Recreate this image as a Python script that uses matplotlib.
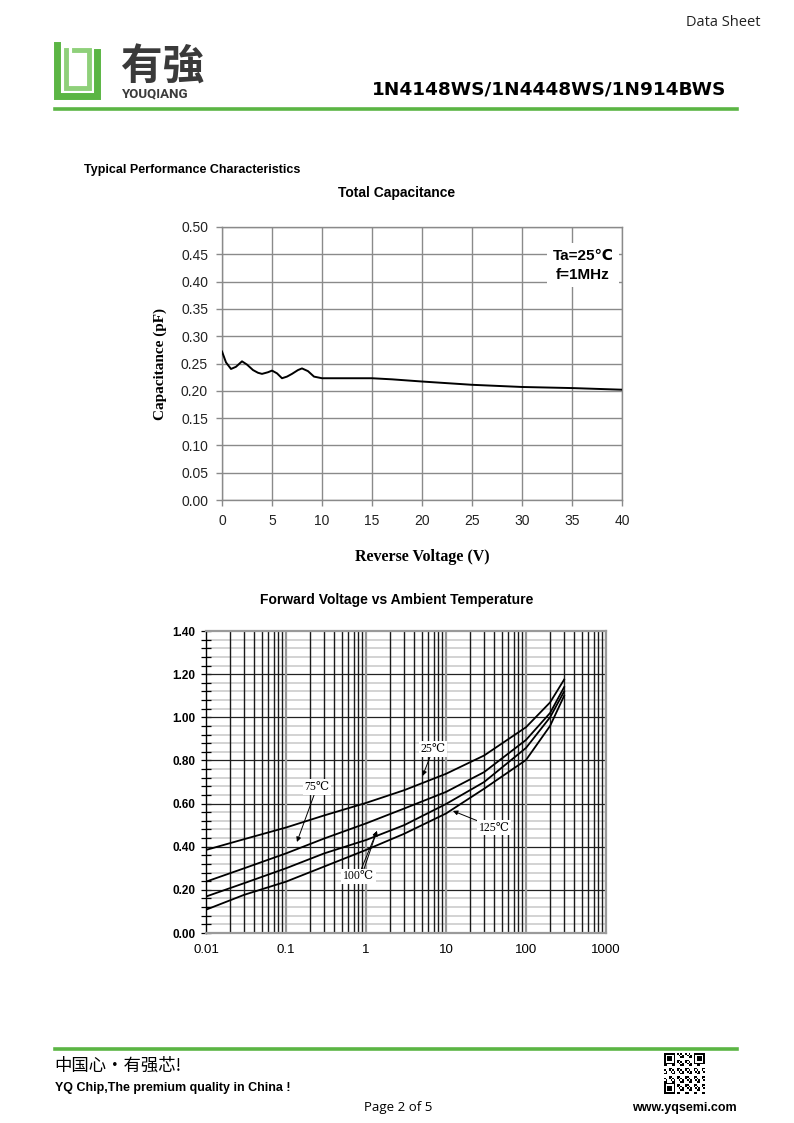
import numpy as np
import matplotlib
matplotlib.use("Agg")
import matplotlib.pyplot as plt
from matplotlib.ticker import FixedLocator, NullFormatter

# ---- data: total capacitance ----
rev_voltage = [0, 0.4, 0.9, 1.4, 2.0, 2.5, 3.1, 3.6, 4.0, 4.6, 5.0, 5.5, 6.0, 6.5,
               7.0, 7.6, 8.0, 8.6, 9.2, 10, 15, 17, 20, 25, 30, 35, 40]
capacitance = [0.272, 0.252, 0.240, 0.244, 0.254, 0.248, 0.238, 0.233, 0.231, 0.234,
               0.237, 0.232, 0.223, 0.226, 0.231, 0.238, 0.241, 0.236, 0.226, 0.223,
               0.223, 0.221, 0.217, 0.211, 0.207, 0.205, 0.202]

# ---- data: forward voltage vs current ----
fwd_current = [0.01, 0.03, 0.1, 0.3, 1, 3, 10, 30, 100, 200, 300]
vf_25 = [0.385, 0.435, 0.489, 0.545, 0.603, 0.662, 0.738, 0.823, 0.954, 1.069, 1.175]
vf_75 = [0.238, 0.300, 0.369, 0.438, 0.508, 0.577, 0.654, 0.746, 0.895, 1.020, 1.140]
vf_100 = [0.169, 0.231, 0.300, 0.369, 0.431, 0.500, 0.598, 0.700, 0.858, 1.000, 1.120]
vf_125 = [0.108, 0.177, 0.238, 0.308, 0.385, 0.460, 0.554, 0.669, 0.802, 0.960, 1.100]

W, H = 794, 1123
GREEN = "#5bb544"
SANS = ["Liberation Sans", "DejaVu Sans"]
SERIF = ["Liberation Serif", "DejaVu Serif"]
CJK = ["Noto Sans CJK SC", "DejaVu Sans"]

fig = plt.figure(figsize=(W / 100, H / 100), dpi=100)


def px(x, y):
    return x / W, 1 - y / H


def ftext(x, y, s, **kw):
    fig.text(*px(x, y), s, **kw)


# ---- header ----
ftext(760, 22, "Data Sheet", ha="right", va="center", fontsize=10.5,
      family=["Open Sans", "DejaVu Sans"], color="#222222")
ftext(726, 90, "1N4148WS/1N4448WS/1N914BWS", ha="right", va="center",
      fontsize=13.3, fontweight="bold", family=["DejaVu Sans"])
fig.add_artist(plt.Line2D([55 / W, 737 / W], [1 - 109 / H] * 2, color=GREEN, lw=2.6))

# logo
fig.add_artist(plt.Line2D([57 / W, 57 / W, 97 / W, 97 / W],
                          [1 - 45 / H, 1 - 96 / H, 1 - 96 / H, 1 - 52 / H],
                          color=GREEN, lw=5, solid_joinstyle="miter"))
fig.add_artist(plt.Line2D([66 / W, 66 / W, 89 / W, 89 / W, 74 / W],
                          [1 - 50 / H, 1 - 88 / H, 1 - 88 / H, 1 - 50 / H, 1 - 50 / H],
                          color="#8fd07a", lw=3.5, solid_joinstyle="miter"))
ftext(121, 68, "有強", ha="left", va="center", fontsize=30, fontweight="bold",
      family=CJK, color="#3a3a3a")
ftext(122, 94, "YOUQIANG", ha="left", va="center", fontsize=9.5, fontweight="bold",
      family=["Roboto", "DejaVu Sans"], color="#3a3a3a")

ftext(84, 170, "Typical Performance Characteristics", ha="left", va="center",
      fontsize=9, fontweight="bold", family=SANS)

# ---- chart 1: total capacitance ----
ftext(397, 193, "Total Capacitance", ha="center", va="center", fontsize=10,
      fontweight="bold", family=SANS)
ax1 = fig.add_axes([222 / W, 1 - 500 / H, 400 / W, 273 / H])
ax1.plot(rev_voltage, capacitance, color="black", lw=1.4, zorder=3)
ax1.set_xlim(0, 40)
ax1.set_ylim(0, 0.5)
ax1.set_xticks(np.arange(0, 41, 5))
ax1.set_yticks(np.arange(0, 0.501, 0.05))
ax1.set_yticklabels([f"{v:.2f}" for v in np.arange(0, 0.501, 0.05)])
ax1.grid(True, color="#8a8a8a", lw=1.0)
ax1.set_axisbelow(True)
for sp in ax1.spines.values():
    sp.set_color("#8a8a8a")
    sp.set_linewidth(1.0)
ax1.tick_params(length=4, width=1, color="#8a8a8a", labelsize=10, pad=6)
for lab in ax1.get_xticklabels() + ax1.get_yticklabels():
    lab.set_family(SANS)
    lab.set_color("#222222")
ax1.text(-0.155, 0.5, "Capacitance (pF)", transform=ax1.transAxes, rotation=90,
         ha="center", va="center", fontsize=11, fontweight="bold", family=SERIF)
ax1.text(0.5, -0.209, "Reverse Voltage (V)", transform=ax1.transAxes,
         ha="center", va="center", fontsize=11.5, fontweight="bold", family=SERIF)
ax1.text(36.1, 0.43, "Ta=25\u2103\nf=1MHz", ha="center", va="center", fontsize=11,
         fontweight="bold", family=SANS, linespacing=1.45, zorder=4,
         bbox=dict(boxstyle="square,pad=0.35", fc="white", ec="none"))

# ---- chart 2: forward voltage ----
ftext(397, 600, "Forward Voltage vs Ambient Temperature", ha="center", va="center",
      fontsize=10, fontweight="bold", family=SANS)
ax2 = fig.add_axes([206 / W, 1 - 933 / H, 400 / W, 302 / H])
ax2.set_xscale("log")
ax2.set_xlim(0.01, 1000)
ax2.set_ylim(0, 1.4)

decades = [0.01, 0.1, 1, 10, 100, 1000]
minors = [m * d for d in decades[:-1] for m in range(2, 10)]
for yv in np.arange(0.04, 1.40, 0.04):
    if abs(yv / 0.2 - round(yv / 0.2)) > 1e-6:
        ax2.axhline(yv, color="#d0d0d0", lw=1.3, zorder=1)
for yv in np.arange(0.2, 1.39, 0.2):
    ax2.axhline(yv, color="#222222", lw=0.9, zorder=2)
for xv in minors:
    ax2.axvline(xv, color="#1a1a1a", lw=1.0, zorder=2)
for xv in decades[1:]:
    ax2.axvline(xv, color="#9a9a9a", lw=1.6, zorder=2)

for vf in (vf_25, vf_75, vf_100, vf_125):
    ax2.plot(fwd_current, vf, color="black", lw=1.3, zorder=4)

ax2.xaxis.set_major_locator(FixedLocator(decades))
ax2.set_xticklabels(["0.01", "0.1", "1", "10", "100", "1000"])
ax2.xaxis.set_minor_locator(FixedLocator([]))
ax2.xaxis.set_minor_formatter(NullFormatter())
ax2.set_yticks(np.arange(0, 1.401, 0.2))
ax2.set_yticklabels([f"{v:.2f}" for v in np.arange(0, 1.401, 0.2)])
ax2.yaxis.set_minor_locator(FixedLocator(np.arange(0, 1.401, 0.04)))
ax2.tick_params(axis="y", which="both", direction="inout", length=7, width=0.9,
                labelsize=8.5, pad=4)
ax2.tick_params(axis="x", which="both", length=0, labelsize=9.5, pad=8)
for lab in ax2.get_yticklabels():
    lab.set_family(SANS)
    lab.set_fontweight("bold")
for lab in ax2.get_xticklabels():
    lab.set_family(SANS)
ax2.spines["left"].set_color("black")
ax2.spines["left"].set_linewidth(1.0)
for side in ("top", "right", "bottom"):
    ax2.spines[side].set_color("#9a9a9a")
    ax2.spines[side].set_linewidth(1.6)

lab_font = dict(fontsize=8.5, family=SERIF + ["Noto Sans CJK SC"], ha="center",
                va="center", zorder=6,
                bbox=dict(boxstyle="square,pad=0.15", fc="white", ec="none"))
arrow = dict(arrowstyle="-|>", color="black", lw=0.7, mutation_scale=7,
             shrinkA=0, shrinkB=0)
ax2.annotate("25\u2103", xy=(5.1, 0.728), xytext=(6.9, 0.853),
             arrowprops=arrow, **lab_font)
ax2.annotate("75\u2103", xy=(0.137, 0.422), xytext=(0.244, 0.677),
             arrowprops=arrow, **lab_font)
ax2.annotate("125\u2103", xy=(12.2, 0.566), xytext=(40, 0.489),
             arrowprops=arrow, **lab_font)
ax2.annotate("", xy=(1.37, 0.473), xytext=(0.92, 0.285), arrowprops=arrow, zorder=6)
ax2.annotate("100\u2103", xy=(1.37, 0.473), xytext=(0.80, 0.262),
             arrowprops=arrow, **lab_font)

# ---- footer ----
fig.add_artist(plt.Line2D([55 / W, 737 / W], [1 - 1049 / H] * 2, color=GREEN, lw=2.6))
ftext(54, 1066, "中国心·有强芯!", ha="left", va="center", fontsize=12.5,
      family=CJK)
ftext(55, 1088, "YQ Chip,The premium quality in China !", ha="left", va="center",
      fontsize=9, fontweight="bold", family=SANS)
ftext(398, 1107, "Page 2 of 5", ha="center", va="center", fontsize=9.5,
      family=["Open Sans", "DejaVu Sans"])
ftext(737, 1108, "www.yqsemi.com", ha="right", va="center", fontsize=9,
      fontweight="bold", family=SANS)

# QR-like mark
qax = fig.add_axes([663 / W, 1 - 1094 / H, 42 / W, 41 / H])
n = 25
ii, jj = np.meshgrid(np.arange(n), np.arange(n))
qr = ((ii * 7 + jj * 13 + ii * jj) % 5 < 2).astype(float)
for (r, c) in [(0, 0), (0, n - 7), (n - 7, 0)]:
    qr[r:r + 7, c:c + 7] = 1
    qr[r + 1:r + 6, c + 1:c + 6] = 0
    qr[r + 2:r + 5, c + 2:c + 5] = 1
qax.imshow(qr, cmap="Greys", interpolation="nearest", vmin=0, vmax=1)
qax.axis("off")

fig.savefig("out.png", dpi=100)
